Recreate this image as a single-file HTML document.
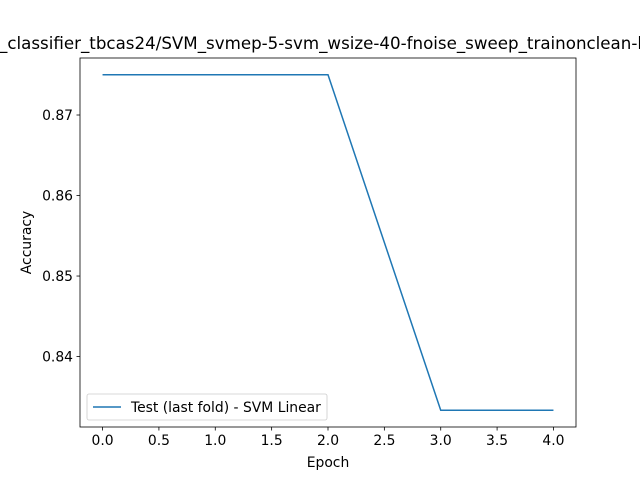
<!DOCTYPE html>
<html><head><meta charset="utf-8"><style>body{margin:0;background:#fff}svg{display:block;font-family:"DejaVu Sans","Liberation Sans",sans-serif}</style></head>
<body>
<svg id="chart" width="640" height="480">
<rect width="640" height="480" fill="#fff"/>
<text x="-1" y="49" font-size="16.7" textLength="643" lengthAdjust="spacingAndGlyphs">_classifier_tbcas24/SVM_svmep-5-svm_wsize-40-fnoise_sweep_trainonclean-l</text>
<g id="axes"></g>
</svg>
<script>
const epochs = [0, 1, 2, 3, 4];
const accuracy = [0.875, 0.875, 0.875, 0.83333, 0.83333];
const xTicks = [0, 0.5, 1, 1.5, 2, 2.5, 3, 3.5, 4];
const yTicks = [0.84, 0.85, 0.86, 0.87];

const L=80,R=576,T=58,B=427;
const xMin=-0.2,xMax=4.2,yMin=0.83125,yMax=0.87708;
const sx=v=>L+(v-xMin)/(xMax-xMin)*(R-L);
const sy=v=>B-(v-yMin)/(yMax-yMin)*(B-T);
const NS='http://www.w3.org/2000/svg';
const g=document.getElementById('axes');
function mk(tag,attrs,txt){const e=document.createElementNS(NS,tag);for(const k in attrs)e.setAttribute(k,attrs[k]);if(txt!==undefined)e.textContent=txt;g.appendChild(e);return e;}

xTicks.forEach(t=>{
  const x=sx(t);
  const tk=mk('line',{x1:x,x2:x,y1:B,y2:B+3.5,stroke:'#000','stroke-width':0.8});
  
  
  const lb=mk('text',{x:x,y:B+18,'font-size':13.9,'text-anchor':'middle'},t.toFixed(1));
  
  
});
yTicks.forEach(t=>{
  const y=sy(t);
  const tk=mk('line',{x1:L-3.5,x2:L,y1:y,y2:y,stroke:'#000','stroke-width':0.8});
  
  
  const lb=mk('text',{x:L-7,y:y+5,'font-size':13.9,'text-anchor':'end'},t.toFixed(2));
  
  
});

const line=mk('polyline',{points:epochs.map((e,i)=>sx(e)+','+sy(accuracy[i])).join(' '),fill:'none',stroke:'#1f77b4','stroke-width':1.5});



const frame=mk('rect',{x:L,y:T,width:R-L,height:B-T,fill:'none',stroke:'#000','stroke-width':0.8});



const xl=mk('text',{x:(L+R)/2,y:467,'font-size':13.9,'text-anchor':'middle'},'Epoch');


const yl=mk('text',{x:0,y:0,'font-size':13.9,'text-anchor':'middle',transform:'translate(31,'+((T+B)/2)+') rotate(-90)'},'Accuracy');



const lg=mk('rect',{x:87,y:394,width:240,height:26,rx:2,fill:'#fff','fill-opacity':0.8,stroke:'#ccc','stroke-width':0.8});


const ll=mk('line',{x1:93,x2:121,y1:407,y2:407,stroke:'#1f77b4','stroke-width':1.5});


const lt=mk('text',{x:131,y:412,'font-size':13.9},'Test (last fold) - SVM Linear');


</script>
</body></html>
